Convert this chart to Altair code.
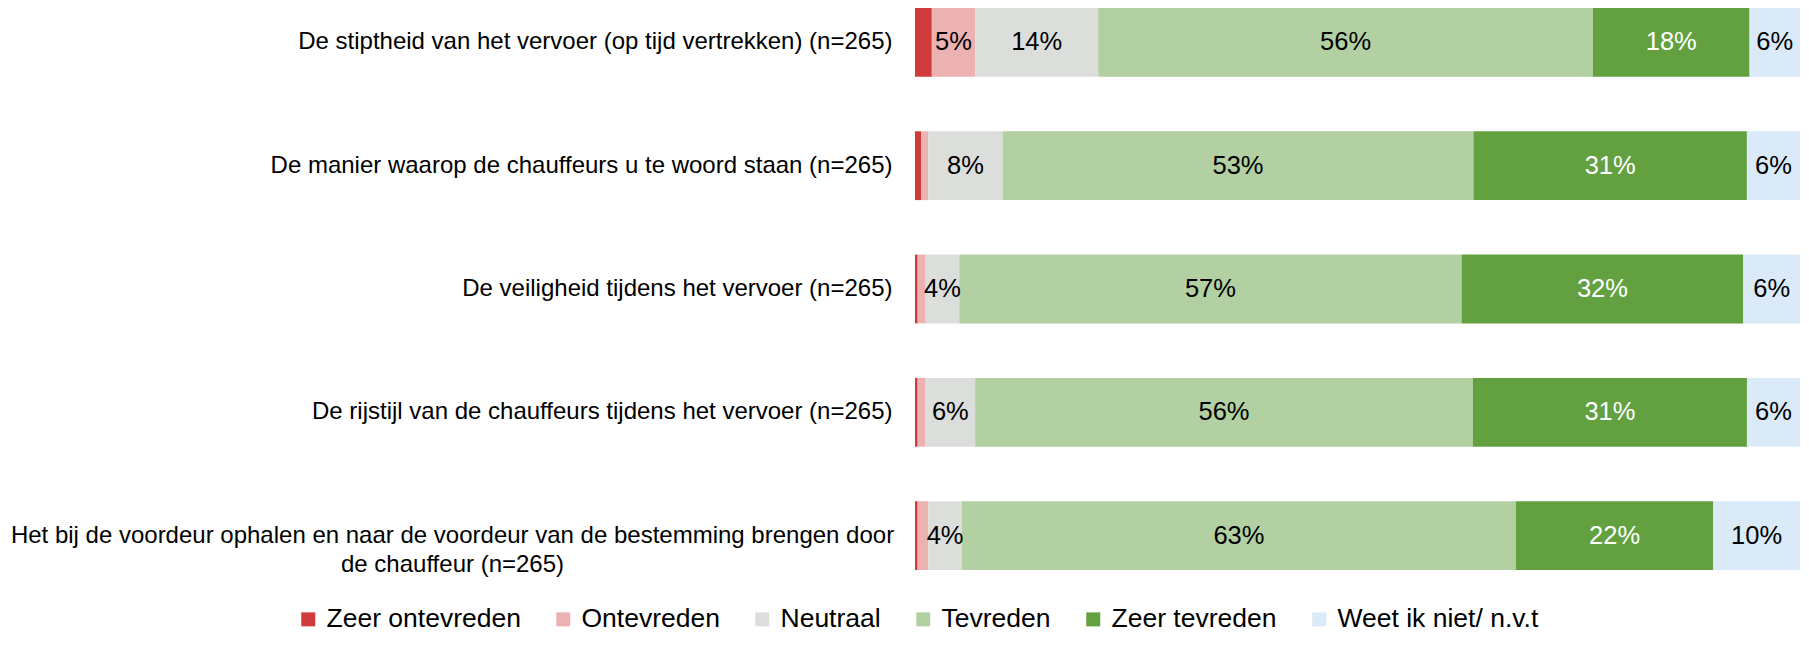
import altair as alt
import pandas as pd

categories = [
    "De stiptheid van het vervoer (op tijd vertrekken) (n=265)",
    "De manier waarop de chauffeurs u te woord staan (n=265)",
    "De veiligheid tijdens het vervoer (n=265)",
    "De rijstijl van de chauffeurs tijdens het vervoer (n=265)",
    "Het bij de voordeur ophalen en naar de voordeur van de bestemming brengen door|de chauffeur (n=265)",
]
responses = ["Zeer ontevreden", "Ontevreden", "Neutraal", "Tevreden", "Zeer tevreden", "Weet ik niet/ n.v.t"]
colors = ["#D03B3B", "#ECB2B2", "#DCDEDC", "#B2D0A1", "#62A040", "#DAEAF9"]

zeer_ontevreden = [1.9, 0.7, 0.3, 0.3, 0.3]
ontevreden = [4.9, 0.8, 0.9, 0.9, 1.2]
neutraal = [13.9, 8.4, 3.8, 5.6, 3.8]
tevreden = [55.9, 53.2, 56.7, 56.3, 62.6]
zeer_tevreden = [17.7, 30.9, 31.8, 31.0, 22.3]
weet_niet = [5.7, 6.0, 6.4, 6.0, 9.8]

series = [zeer_ontevreden, ontevreden, neutraal, tevreden, zeer_tevreden, weet_niet]
rows = []
for r_i, (resp, vals) in enumerate(zip(responses, series)):
    for cat, v in zip(categories, vals):
        rows.append({"category": cat, "response": resp, "order": r_i, "value": v})
df = pd.DataFrame(rows)

FONT = "Liberation Sans"
multi_test = "indexof(datum.value, '|') >= 0"

base = alt.Chart(df).transform_stack(
    stack="value",
    groupby=["category"],
    as_=["v0", "v1"],
    offset="normalize",
    sort=[alt.SortField("order", order="ascending")],
).transform_calculate(mid="(datum.v0 + datum.v1) / 2")

y_enc = alt.Y(
    "category:N",
    sort=categories,
    scale=alt.Scale(paddingInner=0.442, paddingOuter=0),
    axis=alt.Axis(
        title=None,
        ticks=False,
        domain=False,
        labelFont=FONT,
        labelFontSize=24,
        labelColor="#000000",
        labelLimit=1500,
        labelLineHeight=29,
        labelExpr="split(datum.label, '|')",
        labelAlign={"condition": {"test": multi_test, "value": "center"}, "value": "right"},
        labelPadding={"condition": {"test": multi_test, "value": 463}, "value": 23},
    ),
)

bars = base.mark_bar().encode(
    x=alt.X("v0:Q", scale=alt.Scale(domain=[0, 1]), axis=None),
    x2="v1:Q",
    y=y_enc,
    color=alt.Color(
        "response:N",
        scale=alt.Scale(domain=responses, range=colors),
        legend=alt.Legend(
            title=None,
            orient="none",
            legendX=-620,
            legendY=598,
            direction="horizontal",
            columns=6,
            symbolType="square",
            symbolSize=196,
            symbolStrokeWidth=0,
            labelFont=FONT,
            labelFontSize=26.5,
            labelColor="#000000",
            labelLimit=400,
            labelOffset=5,
            columnPadding=29,
            padding=0,
        ),
    ),
)

labels = base.transform_filter("datum.value >= 3").transform_calculate(
    lbl="format(datum.value, '.0f') + '%'"
).mark_text(font=FONT, fontSize=25.5).encode(
    x=alt.X("mid:Q", scale=alt.Scale(domain=[0, 1]), axis=None),
    y=alt.Y("category:N", sort=categories),
    text="lbl:N",
    color=alt.condition("datum.response == 'Zeer tevreden'", alt.value("#FFFFFF"), alt.value("#000000")),
)

chart = alt.layer(bars, labels).properties(
    width=885,
    height=562,
    padding={"left": 2, "top": 0, "right": 0, "bottom": 0},
    background="#FFFFFF",
).configure_view(stroke=None)

chart.save("out.html", embed_options={"renderer": "svg", "actions": False})
